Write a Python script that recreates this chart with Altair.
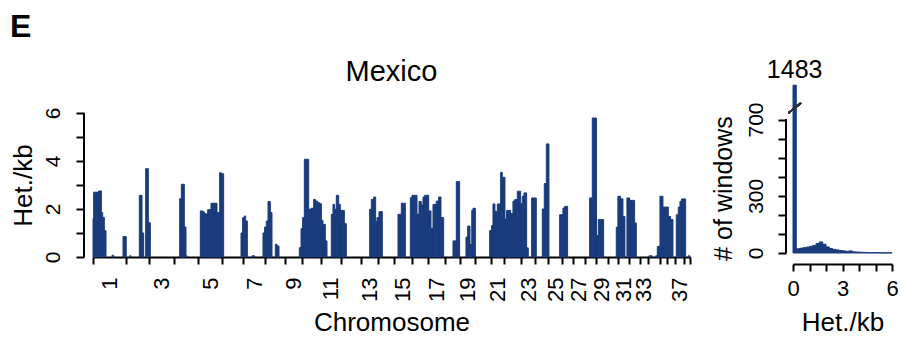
import altair as alt
import pandas as pd

NAVY = "#1a3c7c"
FONT = "Liberation Sans"

# ---- data -------------------------------------------------------------
chrom_len = [122.7, 85.4, 92.0, 88.3, 88.9, 77.6, 80.9, 74.1, 61.1, 69.3,
             74.4, 72.5, 63.2, 60.9, 64.2, 59.6, 64.3, 55.8, 53.7, 58.1,
             50.9, 61.4, 52.3, 47.7, 51.6, 38.9, 45.9, 41.2, 41.8, 40.2,
             39.8, 38.8, 31.4, 42.1, 26.5, 30.8, 30.9, 23.9]
labelled_chroms = [1, 3, 5, 7, 9, 11, 13, 15, 17, 19, 21, 23, 25, 27, 29, 31, 33, 37]

# heterozygosity runs per chromosome: (start Mb, end Mb, het/kb)
het_runs = [
    [(0, 2.5, 1.6), (2.5, 21, 2.7), (21, 30.8, 2.75), (30.8, 35.7, 1.85), (35.7, 41.9, 1.65),
     (41.9, 48, 1.1), (70, 76, 0.07), (110.7, 122.7, 0.85)],
    [(12.6, 17.6, 0.05), (48.3, 58.2, 2.57), (58.2, 64.3, 1.0), (71.7, 81.5, 3.68), (81.5, 85.4, 1.43)],
    [(0, 3.5, 1.43)],
    [(19.7, 25.9, 2.43), (25.9, 36.9, 3.03), (36.9, 43.1, 1.25), (43.1, 46.8, 0.05)],
    [(7.7, 16.3, 1.92), (16.3, 22.5, 1.88), (22.5, 34.8, 1.8), (34.8, 47.1, 1.97), (47.1, 69.2, 2.24),
     (69.2, 79, 1.85), (79, 85.2, 3.51), (85.2, 88.9, 3.47)],
    [(0, 4.9, 3.47), (68.9, 75, 1.0), (75, 77.6, 1.64)],
    [(0, 3.6, 1.64), (3.6, 8.5, 1.71), (8.5, 14.6, 1.5), (31.9, 41.8, 0.05), (72.4, 78.6, 1.0),
     (78.6, 80.9, 1.25)],
    [(0, 3.8, 1.25), (3.8, 10, 1.5), (10, 18.6, 2.31), (18.6, 24.8, 1.85), (37.1, 43.2, 0.53),
     (43.2, 50.6, 0.46)],
    [(51.5, 57.7, 0.39), (57.7, 61.1, 1.18)],
    [(0, 2.7, 1.18), (2.7, 8.9, 1.64), (8.9, 24.9, 4.07), (24.9, 33.5, 1.99), (33.5, 43.3, 2.03),
     (43.3, 49.5, 2.4), (49.5, 58.1, 2.33), (58.1, 65.4, 2.26), (65.4, 69.3, 2.22)],
    [(0, 2.3, 2.22), (2.3, 8.4, 1.53), (8.4, 17, 1.36), (17, 23.2, 0.67), (39.2, 45.3, 1.78),
     (45.3, 51.5, 2.19), (51.5, 57.6, 1.99), (57.6, 66.3, 2.57), (66.3, 72.4, 2.19), (72.4, 74.4, 1.94)],
    [(0, 12.8, 1.94), (12.8, 20.1, 1.39)],
    [(33.8, 39.9, 1.99), (39.9, 48.5, 2.4), (48.5, 55.9, 2.5), (55.9, 60.8, 1.47), (60.8, 63.2, 1.64)],
    [(0, 5, 1.64), (5, 17.3, 1.89)],
    [(14.2, 26.5, 1.78), (26.5, 41.3, 2.24), (59.7, 64.2, 2.47)],
    [(0, 1.7, 2.47), (1.7, 20.1, 2.57), (20.1, 27.5, 1.78), (27.5, 36.1, 2.31), (36.1, 42.2, 2.17),
     (42.2, 48.4, 2.5), (48.4, 59.6, 2.57)],
    [(0, 3.6, 2.57), (3.6, 12.2, 1.92), (12.2, 19.5, 1.19), (19.5, 31.8, 2.19), (31.8, 40.4, 2.33),
     (40.4, 49.1, 2.5), (49.1, 58.9, 1.64)],
    [(29, 41.3, 0.67), (41.3, 53.6, 3.14)],
    [(21.2, 27.4, 0.83), (27.4, 36, 1.29), (36, 42.5, 0.52), (42.5, 47, 1.94), (47, 53.7, 2.03)],
    [(0, 2, 2.03), (54.8, 58.1, 1.1)],
    [(0, 4, 1.1), (4, 9, 1.31), (9, 16.3, 2.21), (16.3, 25, 1.9), (25, 37.3, 2.21), (37.3, 43.4, 3.53),
     (43.4, 50.9, 3.32)],
    [(0, 2.3, 3.32), (2.3, 8.5, 1.58), (8.5, 23.3, 1.94), (23.3, 31.9, 1.81), (31.9, 38, 2.32),
     (38, 47.9, 2.39), (47.9, 60.2, 2.74), (60.2, 61.4, 2.22)],
    [(0, 4.9, 2.22), (4.9, 11.1, 2.53), (11.1, 20.9, 2.67), (20.9, 27, 0.38), (39.3, 52.3, 2.46)],
    [(0, 4.3, 2.46), (26.4, 33.8, 2.0), (33.8, 41.2, 3.06), (41.2, 47.7, 4.71)],
    [(0, 3.3, 4.71), (42.7, 51.6, 1.76)],
    [(0, 3.4, 1.76), (3.4, 9.5, 2.04), (9.5, 20.6, 2.11)],
    [],
    [(17, 26.8, 2.46), (26.8, 41.2, 5.79)],
    [(0, 0.4, 5.79), (0.4, 7.7, 0.89), (7.7, 27.4, 1.56)],
    [(32.3, 38.5, 1.24), (38.5, 40.2, 2.53)],
    [(0, 8.1, 2.53), (8.1, 16.8, 2.42), (16.8, 24.1, 1.69), (31.5, 39.8, 2.46)],
    [(0, 1.6, 2.46), (1.6, 20, 2.36), (20, 26.2, 1.42)],
    [],
    [(2.7, 15, 0.05), (27.3, 33.5, 0.05), (33.5, 42.1, 0.44)],
    [(0, 1.2, 0.44), (1.2, 12.3, 2.53), (12.3, 26.5, 2.08)],
    [(0, 5.5, 2.08), (5.5, 14.1, 1.69), (14.1, 22.7, 1.56)],
    [(4.2, 11.5, 1.76), (11.5, 17.7, 2.08), (17.7, 23.8, 2.32), (23.8, 30.9, 2.42)],
    [(0, 7.7, 2.42), (17.5, 23.9, 0.05)],
]

hist_lo = [round(0.2 * i, 1) for i in range(30)]
hist_count = [1483, 22, 25, 28, 31, 35, 40, 50, 58, 46, 32, 24, 19, 16, 13, 11, 9, 11, 6, 5,
              4, 3, 3, 2, 2, 2, 1, 1, 1, 1]

# ---- derived tables ---------------------------------------------------
offsets = [0.0]
for L in chrom_len:
    offsets.append(offsets[-1] + L)
genome_total = offsets[-1]

rows = []
for ci, runs in enumerate(het_runs):
    off = offsets[ci]
    for s, e, h in runs:
        rows.append({"start": off + s, "end": off + e, "het": h, "chrom": ci + 1})
bars_df = pd.DataFrame(rows)

bounds = [round(b, 3) for b in offsets]
mids = [round(offsets[c - 1] + chrom_len[c - 1] / 2, 3) for c in labelled_chroms]
mids_df = pd.DataFrame({"mid": mids, "chrom": labelled_chroms})
label_expr = ("[" + ",".join("'%d'" % c for c in labelled_chroms) + "][indexof(["
              + ",".join(repr(m) for m in mids) + "], datum.value)]")

hist_df = pd.DataFrame({"lo": hist_lo, "hi": [round(v + 0.2, 1) for v in hist_lo],
                        "count": hist_count})

CAP = 880      # where the tall first bin is cut for display
BREAK = 760    # position of the axis break mark

# ---- left panel: heterozygosity along the genome ----------------------
L_W, L_H = 597, 176
xs = alt.Scale(domain=[0, genome_total], nice=False, zero=False)
ys = alt.Scale(domain=[0, 7.333], nice=False)

LX_AX = alt.Axis(values=bounds, labels=False, title=None, grid=False, orient="bottom",
                 tickSize=7, tickWidth=2, domainWidth=2, tickColor="black", domainColor="black")
LY_AX = alt.Axis(values=[0, 1, 2, 3, 4, 5, 6], domain=False, grid=False, offset=9,
                 labelExpr="datum.value % 2 == 0 ? datum.label : ''",
                 labelOverlap=False, labelFontSize=21,
                 labelAngle=-90, labelAlign="center", labelBaseline="bottom",
                 labelPadding=13, tickSize=8, tickWidth=2, tickColor="black",
                 title="Het./kb", titleFontSize=26, titlePadding=6, titleY=104)

bars = alt.Chart(bars_df).mark_rect(color=NAVY, stroke=NAVY, strokeWidth=1).encode(
    x=alt.X("start:Q", scale=xs, axis=LX_AX),
    x2="end:Q",
    y=alt.Y("het:Q", scale=ys, axis=LY_AX),
    y2=alt.Y2(datum=0),
)

ylin = alt.Chart(bars_df).mark_rule(color="black", strokeWidth=2).encode(
    x=alt.value(-9), y=alt.Y(datum=0, scale=ys, axis=LY_AX), y2=alt.Y2(datum=6))

xlabels = alt.Chart(mids_df).mark_point(opacity=0).encode(
    x=alt.X("mid:Q", scale=xs,
            axis=alt.Axis(values=mids, labelExpr=label_expr, ticks=False, tickSize=0,
                          domain=False, grid=False, orient="bottom", labelAngle=-90,
                          labelAlign="right", labelBaseline="middle", labelPadding=20,
                          labelOverlap=False, labelFontSize=22,
                          title="Chromosome", titleFontSize=26, titlePadding=8)),
)

left = alt.layer(bars, ylin, xlabels).resolve_axis(x="independent").properties(
    width=L_W, height=L_H,
    title=alt.TitleParams("Mexico", fontSize=29, font=FONT, fontWeight="normal", offset=-6))

# ---- right panel: histogram with broken axis --------------------------
R_W, R_H = 99, 172
hx = alt.Scale(domain=[0, 6], nice=False)
hy = alt.Scale(domain=[0, 902], nice=False)

RX_AX = alt.Axis(values=[0, 1, 2, 3, 4, 5, 6], grid=False, offset=11,
                 labelExpr="datum.value % 3 == 0 ? datum.label : ''",
                 labelOverlap=False, labelFlush=False, labelFontSize=22,
                 labelAngle=0, labelPadding=7, tickSize=7, tickWidth=2,
                 domainWidth=2, tickColor="black", domainColor="black",
                 title="Het./kb", titleFontSize=26, titlePadding=10)
RY_AX = alt.Axis(values=[0, 100, 200, 300, 400, 500, 600, 700], domain=False,
                 grid=False, offset=7, labelOverlap=False, labelFlush=False,
                 labelFontSize=21,
                 labelExpr="indexof([0, 300, 700], datum.value) >= 0 ? datum.label : ''",
                 labelAngle=-90, labelAlign="center", labelBaseline="bottom",
                 labelPadding=12, tickSize=8, tickWidth=2, tickColor="black",
                 title="# of windows", titleFontSize=25, titlePadding=9, titleY=107)

hbase = alt.Chart(hist_df).transform_calculate(
    shown="min(datum.count, %d)" % CAP, mid="(datum.lo + datum.hi) / 2")

hbars = hbase.mark_rect(color=NAVY, stroke=NAVY, strokeWidth=1).encode(
    x=alt.X("lo:Q", scale=hx, axis=RX_AX),
    x2="hi:Q",
    y=alt.Y("shown:Q", scale=hy, axis=RY_AX),
    y2=alt.Y2(datum=0),
)

hylin = hbase.mark_rule(color="black", strokeWidth=2).encode(
    x=alt.value(-7), y=alt.Y(datum=0, scale=hy, axis=RY_AX), y2=alt.Y2(datum=700))

hbreak = hbase.mark_rule(color="#333333", strokeWidth=1.5).encode(
    x=alt.X(datum=-0.28, scale=hx, axis=RX_AX), x2=alt.X2(datum=0.48),
    y=alt.Y(datum=BREAK - 26, scale=hy, axis=RY_AX), y2=alt.Y2(datum=BREAK + 26))

htext = hbase.transform_filter("datum.count > %d" % CAP).mark_text(
    baseline="bottom", dy=-2, fontSize=25, font=FONT, color="black").encode(
    x=alt.X("mid:Q", scale=hx, axis=RX_AX),
    y=alt.Y("shown:Q", scale=hy, axis=RY_AX),
    text="count:Q")

right = alt.layer(hbars, hylin, hbreak, htext).properties(width=R_W, height=R_H)

chart = alt.hconcat(left, right, spacing=20).properties(
    title=alt.TitleParams("E", anchor="start", fontSize=32, fontWeight="bold", font=FONT,
                          offset=14, frame="bounds"),
    padding={"left": 10, "top": 11, "right": 0, "bottom": 0},
).configure_view(stroke=None).configure_axis(
    labelFont=FONT, titleFont=FONT, labelFontSize=20, titleFontSize=24,
    labelColor="black", titleColor="black", titleFontWeight="normal",
    labelOverlap=False,
).configure_title(color="black")

chart.save("out.html", embed_options={"renderer": "svg", "actions": False})
